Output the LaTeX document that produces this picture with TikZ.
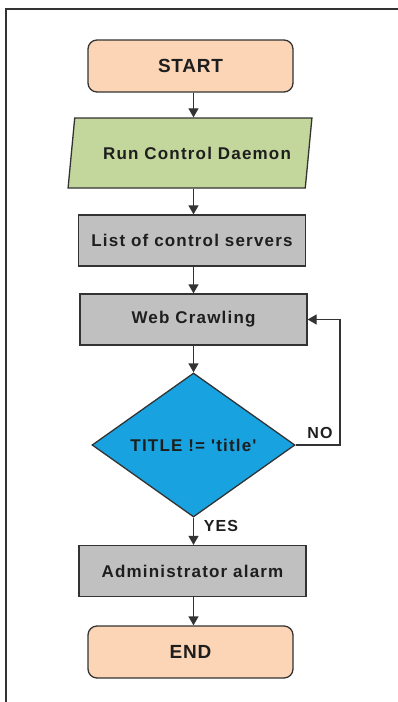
\documentclass[tikz,border=0pt]{standalone}
\usepackage{fontspec}
\newfontfamily\flowfont{Liberation Sans}[LetterSpace=7]
\newfontfamily\termfont{Liberation Sans}[LetterSpace=4]
\usetikzlibrary{shapes.geometric,arrows.meta}
\definecolor{peach}{HTML}{FBD5B5}
\definecolor{iogreen}{HTML}{C3D69B}
\definecolor{boxgray}{HTML}{C0C0C0}
\definecolor{decblue}{HTML}{18A2E0}
\definecolor{linecol}{HTML}{333333}
\definecolor{txt}{HTML}{1E1E1E}
\tikzset{
  base/.style={draw=linecol, line width=1.3pt, text=txt,
    font=\flowfont\bfseries\fontsize{17}{20}\selectfont},
  term/.style={base, rectangle, rounded corners=9pt, fill=peach,
    minimum width=205pt, minimum height=52pt,
    font=\termfont\bfseries\fontsize{19}{22}\selectfont},
  procbox/.style={base, rectangle, fill=boxgray, minimum width=227pt, minimum height=51pt},
  io/.style={base, trapezium, trapezium left angle=72.6, trapezium right angle=107.4,
    trapezium stretches=true, fill=iogreen, minimum width=244pt, minimum height=70pt},
  decision/.style={base, diamond, fill=decblue, minimum width=203pt, minimum height=144pt, inner sep=0pt},
  arr/.style={draw=linecol, line width=1.3pt, -{Triangle[width=10pt,length=9pt]}},
  lab/.style={text=txt, font=\flowfont\bfseries\fontsize{16}{18}\selectfont, inner sep=0pt},
}
\begin{document}
\begin{tikzpicture}[x=1pt,y=-1pt]
\useasboundingbox (0,0) rectangle (398,702);
\draw[linecol, line width=2pt] (5.5,702) -- (5.5,9) -- (398,9);
\node[term] (start) at (190.5,66) {START};
\node[io] (daemon) at (190,153) {\hspace*{14pt}Run Control Daemon};
\node[procbox] (list) at (192,240.5) {List of control servers};
\node[procbox] (crawl) at (193.5,319.5) {Web Crawling};
\node[decision] (dec) at (193.5,445) {TITLE != 'title'};
\node[procbox] (admin) at (192.5,571) {Administrator alarm};
\node[term] (end) at (190.5,652) {END};
\coordinate (loopc) at (340,445);
\draw[arr] (start.south -| dec.north) -- (daemon.north -| dec.north);
\draw[arr] (daemon.south -| dec.north) -- (list.north -| dec.north);
\draw[arr] (list.south -| dec.north) -- (crawl.north -| dec.north);
\draw[arr] (crawl.south -| dec.north) -- (dec.north);
\draw[arr] (dec.south) -- (admin.north -| dec.south);
\draw[arr] (admin.south -| dec.north) -- (end.north -| dec.north);
\draw[arr] (dec.east) -- (loopc) |- (crawl.east);
\node[lab] (nolab) at (320,433) {NO};
\node[lab] (yeslab) at (221,526) {YES};
\end{tikzpicture}
\end{document}
